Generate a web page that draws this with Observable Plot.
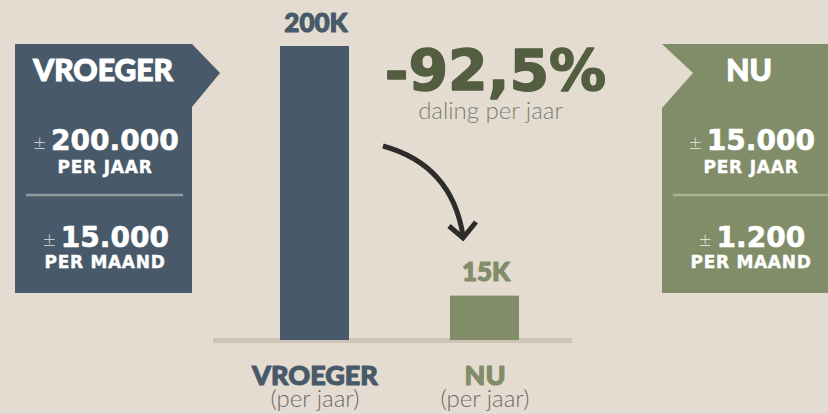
<!DOCTYPE html>
<html><head><meta charset="utf-8">
<script src="https://cdn.jsdelivr.net/npm/d3@7"></script>
<script src="https://cdn.jsdelivr.net/npm/@observablehq/plot@0.6"></script>
<style>
html,body{margin:0;padding:0;background:#e4dcd1;}
#chart{width:828px;height:414px;overflow:hidden;}
</style></head><body><div id="chart"></div>
<script>
// ---- data ----
const categories = ["VROEGER", "NU"];
const perJaar = [200000, 15000];
const barLabels = ["200K", "15K"];
const panelTitles = ["VROEGER", "NU"];
const panelYearValues = ["200.000", "15.000"];
const panelMonthValues = ["15.000", "1.200"];
const yearUnit = "PER JAAR";
const monthUnit = "PER MAAND";
const changeText = "-92,5%";
const changeLabel = "daling per jaar";
const subLabel = "(per jaar)";
const colors = ["#485a6a", "#818d69"];

const data = categories.map((c, i) => ({cat: c, value: perJaar[i], label: barLabels[i]}));
const FONT = "Lato, 'Open Sans', 'DejaVu Sans', sans-serif";
const NUMFONT = "'DejaVu Sans', Lato, sans-serif";

const plot = Plot.plot({
  width: 828, height: 414, margin: 0,
  style: {background: "#e4dcd1", fontFamily: FONT, overflow: "visible"},
  x: {type: "band", domain: categories, range: [229.5, 569.5], paddingInner: 0.594, paddingOuter: 0.297, axis: null},
  y: {type: "pow", exponent: 0.73, domain: [0, 200000], range: [340, 46], axis: null},
  color: {domain: categories, range: colors},
  marks: [
    Plot.ruleY([0], {stroke: "#cdc4b7", strokeWidth: 5, insetLeft: 213, insetRight: 256}),
    Plot.barY(data, {x: "cat", y: "value", fill: "cat"}),
    Plot.text(data, {x: "cat", y: "value", text: "label", fill: "cat", stroke: "cat", strokeWidth: 1.1, lineAnchor: "bottom", dy: -15, dx: 1, fontSize: 26, fontWeight: 900}),
    Plot.text(data, {x: "cat", y: 0, text: "cat", fill: "cat", stroke: "cat", strokeWidth: 1.1, lineAnchor: "bottom", dy: 44, fontSize: 27, fontWeight: 900}),
    Plot.text(data, {x: "cat", y: 0, text: () => subLabel, fill: "#6d6b69", lineAnchor: "bottom", dy: 66, fontSize: 24, fontWeight: 300}),
    Plot.text([changeText], {frameAnchor: "top-left", text: d => d, dx: 495, dy: 90, lineAnchor: "bottom", textAnchor: "middle", fill: "#535d40", stroke: "#535d40", strokeWidth: 1.5, fontSize: 57, fontWeight: 700, fontFamily: NUMFONT}),
    Plot.text([changeLabel], {frameAnchor: "top-left", text: d => d, dx: 490, dy: 118, lineAnchor: "bottom", textAnchor: "middle", fill: "#7b7e70", fontSize: 24, fontWeight: 300})
  ]
});

const svg = d3.select(plot);
const deco = svg.append("g");

// arrow
deco.append("path").attr("d", "M383,146 Q452,165 463,236").attr("fill", "none").attr("stroke", "#2d2c2a").attr("stroke-width", 5);
deco.append("path").attr("d", "M449,226 L463,238 L476,222").attr("fill", "none").attr("stroke", "#2d2c2a").attr("stroke-width", 5);

// panels
const panels = [
  {points: "15,44 192,44 220,73 192,107 192,293 15,293", tx: 103, cx: 106, d1: 26, d2: 183, div: "#8f979d", pm: "rgba(255,255,255,0.7)"},
  {points: "662,44 840,44 840,293 662,293 662,108 693,73", tx: 749, cx: 752, d1: 673, d2: 840, div: "#a9b293", pm: "rgba(255,255,255,0.72)"}
];
panels.forEach((p, i) => {
  const g = deco.append("g").attr("font-family", FONT).attr("fill", "#fff").attr("text-anchor", "middle");
  g.append("polygon").attr("points", p.points).attr("fill", colors[i]);
  g.append("text").attr("x", p.tx).attr("y", 81).attr("font-size", 30).attr("font-weight", 900)
    .attr("stroke", "#fff").attr("stroke-width", 1.1).text(panelTitles[i]);
  const t1 = g.append("text").attr("x", p.cx).attr("y", 150);
  t1.append("tspan").attr("font-size", 22).attr("font-weight", 300).attr("fill", p.pm).text("±");
  t1.append("tspan").attr("dx", 5).attr("font-family", NUMFONT).attr("font-size", 28).attr("font-weight", 700)
    .attr("stroke", "#fff").attr("stroke-width", 0.6).text(panelYearValues[i]);
  g.append("text").attr("x", p.cx - 1).attr("y", 173).attr("font-family", NUMFONT).attr("font-size", 17).attr("font-weight", 700)
    .attr("stroke", "#fff").attr("stroke-width", 0.4).attr("letter-spacing", 0.8).text(yearUnit);
  g.append("line").attr("x1", p.d1).attr("x2", p.d2).attr("y1", 195).attr("y2", 195).attr("stroke", p.div).attr("stroke-width", 2.5);
  const t2 = g.append("text").attr("x", p.cx).attr("y", 247);
  t2.append("tspan").attr("font-size", 22).attr("font-weight", 300).attr("fill", p.pm).text("±");
  t2.append("tspan").attr("dx", 5).attr("font-family", NUMFONT).attr("font-size", 28).attr("font-weight", 700)
    .attr("stroke", "#fff").attr("stroke-width", 0.6).text(panelMonthValues[i]);
  g.append("text").attr("x", p.cx - 1).attr("y", 268).attr("font-family", NUMFONT).attr("font-size", 17).attr("font-weight", 700)
    .attr("stroke", "#fff").attr("stroke-width", 0.4).attr("letter-spacing", 0.7).text(monthUnit);
});

document.getElementById("chart").appendChild(plot);
</script></body></html>
